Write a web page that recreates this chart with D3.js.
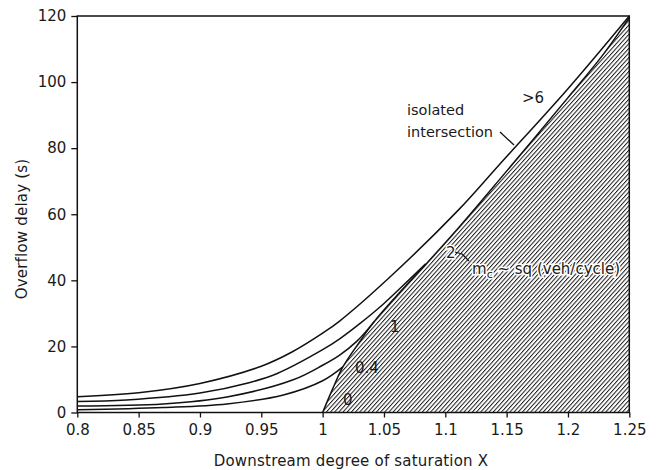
<!DOCTYPE html>
<html>
<head>
<meta charset="utf-8">
<script src="https://cdn.jsdelivr.net/npm/d3@7"></script>
<style>
  html, body { margin: 0; padding: 0; background: #fff; }
  svg { display: block; }
  text { font-family: "DejaVu Sans", sans-serif; fill: #1a1a1a; }
</style>
</head>
<body>
<svg id="chart" width="657" height="470"></svg>
<script>
// ---- data ----
const xTicks = [0.8, 0.85, 0.9, 0.95, 1.0, 1.05, 1.1, 1.15, 1.2, 1.25];
const xTickLabels = ["0.8", "0.85", "0.9", "0.95", "1", "1.05", "1.1", "1.15", "1.2", "1.25"];
const yTicks = [0, 20, 40, 60, 80, 100, 120];
const yTickLabels = ["0", "20", "40", "60", "80", "100", "120"];

// isolated intersection (m_c > 6)
const isoX = [0.80, 0.85, 0.90, 0.95, 0.975, 1.00, 1.0136, 1.054, 1.111, 1.144, 1.20, 1.25];
const isoY = [4.8, 6.0, 8.8, 14.0, 18.3, 24.0, 27.6, 40.7, 61.4, 75.0, 98.0, 120];
// m_c = 2
const m2X = [0.80, 0.84, 0.90, 0.94, 0.963, 1.00, 1.0136, 1.03, 1.05, 1.07, 1.084];
const m2Y = [3.3, 3.8, 5.9, 9.0, 11.8, 19.0, 22.2, 26.8, 33.0, 40.0, 45.0];
// m_c = 1
const m1X = [0.80, 0.87, 0.922, 0.976, 1.00, 1.0136, 1.028, 1.042];
const m1Y = [2.0, 2.6, 4.7, 9.9, 14.3, 17.3, 21.6, 27.5];
// m_c = 0.4
const m04X = [0.80, 0.87, 0.922, 0.968, 1.00, 1.0165];
const m04Y = [0.8, 1.5, 2.6, 5.3, 9.6, 13.8];
// m_c = 0 (boundary of hatched region)
const m0X = [1.0, 1.008, 1.0165, 1.03, 1.042, 1.06, 1.084, 1.111, 1.144, 1.20, 1.228, 1.25];
const m0Y = [0, 7.0, 13.8, 21.3, 27.5, 35.2, 44.8, 56.0, 70.4, 95.3, 108.0, 119.5];

// ---- layout ----
const svg = d3.select("#chart");
const x = d3.scaleLinear().domain([0.8, 1.25]).range([77.3, 629.3]);
const y = d3.scaleLinear().domain([0, 120]).range([412.5, 16]);

const zip = (xs, ys) => xs.map((v, i) => [v, ys[i]]);
const curveType = d3.curveCatmullRom.alpha(0.5);
const line = d3.line().x(d => x(d[0])).y(d => y(d[1])).curve(curveType);

// hatch pattern
const defs = svg.append("defs");
const pat = defs.append("pattern")
  .attr("id", "hatch").attr("patternUnits", "userSpaceOnUse")
  .attr("width", 3.1).attr("height", 10)
  .attr("patternTransform", "rotate(42)");
pat.append("line").attr("x1", 0.5).attr("y1", 0).attr("x2", 0.5).attr("y2", 10)
  .attr("stroke", "#1a1a1a").attr("stroke-width", 1);

// hatched region: below m_c = 0 curve, to the right edge
const boundary = zip(m0X, m0Y);
const area = d3.area().x(d => x(d[0])).y0(y(0)).y1(d => y(d[1])).curve(curveType);
svg.append("path").datum(boundary).attr("d", area).attr("fill", "url(#hatch)");

// curves
const curves = [zip(isoX, isoY), zip(m2X, m2Y), zip(m1X, m1Y), zip(m04X, m04Y), boundary];
svg.append("g").selectAll("path").data(curves).join("path")
  .attr("d", line).attr("fill", "none").attr("stroke", "#111")
  .attr("stroke-width", 1.5).attr("stroke-linejoin", "round");

// axes
const xAxis = d3.axisBottom(x).tickValues(xTicks)
  .tickFormat((d, i) => xTickLabels[i]).tickSize(5).tickPadding(7);
const gx = svg.append("g").attr("transform", `translate(0,${y(0)})`).call(xAxis);
gx.select(".domain").remove();
gx.selectAll("line").attr("stroke", "#111").attr("stroke-width", 1.3);
gx.selectAll("text").attr("font-size", 15).attr("font-family", "DejaVu Sans").attr("fill", "#1a1a1a");

const yAxis = d3.axisLeft(y).tickValues(yTicks)
  .tickFormat((d, i) => yTickLabels[i]).tickSize(6).tickPadding(5);
const gy = svg.append("g").attr("transform", `translate(${x(0.8)},0)`).call(yAxis);
gy.select(".domain").remove();
gy.selectAll("line").attr("stroke", "#111").attr("stroke-width", 1.3);
gy.selectAll("text").attr("font-size", 15).attr("font-family", "DejaVu Sans").attr("fill", "#1a1a1a");

// frame
svg.append("rect")
  .attr("x", x(0.8)).attr("y", y(120))
  .attr("width", x(1.25) - x(0.8)).attr("height", y(0) - y(120))
  .attr("fill", "none").attr("stroke", "#111").attr("stroke-width", 1.5);

// axis titles
svg.append("text").attr("x", 351).attr("y", 466).attr("text-anchor", "middle")
  .attr("font-size", 15).attr("letter-spacing", 0.2)
  .text("Downstream degree of saturation X");
svg.append("text").attr("transform", "translate(27,229) rotate(-90)")
  .attr("text-anchor", "middle").attr("font-size", 15).attr("letter-spacing", 0.2)
  .text("Overflow delay (s)");

// annotations
const ann = svg.append("g").attr("font-size", 15);
ann.append("text").attr("x", 343).attr("y", 405).text("0");
ann.append("text").attr("x", 355).attr("y", 373).text("0.4");
ann.append("text").attr("x", 390).attr("y", 332).text("1");
ann.append("text").attr("x", 446).attr("y", 258)
  .attr("stroke", "#fff").attr("stroke-width", 3).attr("paint-order", "stroke").text("2");
ann.append("text").attr("x", 522).attr("y", 103).text(">6");
ann.append("text").attr("x", 407).attr("y", 115).attr("font-size", 14.5).text("isolated");
ann.append("text").attr("x", 407).attr("y", 137).attr("font-size", 14.5).text("intersection");

svg.append("line").attr("x1", 500).attr("y1", 132).attr("x2", 514).attr("y2", 145)
  .attr("stroke", "#111").attr("stroke-width", 1.3);
svg.append("path").attr("d", "M455,252 L462,254 L469,261")
  .attr("fill", "none").attr("stroke", "#111").attr("stroke-width", 1.3);

const mc = ann.append("text").attr("x", 472).attr("y", 274).attr("font-size", 15)
  .attr("stroke", "#fff").attr("stroke-width", 3).attr("paint-order", "stroke");
mc.append("tspan").text("m");
mc.append("tspan").attr("font-size", 11).attr("dy", 4).text("c");
mc.append("tspan").attr("dy", -4).text(" ~ sq (veh/cycle)");
</script>
</body>
</html>
